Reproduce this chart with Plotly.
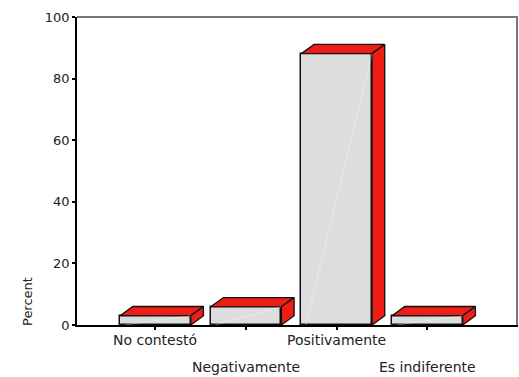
import plotly.graph_objects as go

categories = ["No contestó", "Negativamente", "Positivamente", "Es indiferente"]
percent = [3.0, 5.9, 88.1, 3.0]
y_ticks = [0, 20, 40, 60, 80, 100]

FRONT = "#DDDDDD"
RED = "#EE1E16"
EDGE = "#111111"
BAR_W = 0.78
DX = 0.14   # depth offset in category units
DY = 3.0    # depth offset in percent units

xs = list(range(len(categories)))
fig = go.Figure()

fig.add_trace(go.Bar(
    x=xs, y=percent, width=BAR_W,
    marker=dict(color=FRONT, line=dict(color=EDGE, width=1.5)),
    hoverinfo="skip", showlegend=False,
))

for x, v in zip(xs, percent):
    l, r = x - BAR_W / 2, x + BAR_W / 2
    # top face
    fig.add_trace(go.Scatter(
        x=[l, r, r + DX, l + DX, l], y=[v, v, v + DY, v + DY, v],
        fill="toself", fillcolor=RED, mode="lines",
        line=dict(color=EDGE, width=1.3), hoverinfo="skip", showlegend=False))
    # side face
    fig.add_trace(go.Scatter(
        x=[r, r + DX, r + DX, r, r], y=[0, DY, v + DY, v, 0],
        fill="toself", fillcolor=RED, mode="lines",
        line=dict(color=EDGE, width=1.3), hoverinfo="skip", showlegend=False))
    # subtle highlight on front face
    fig.add_trace(go.Scatter(
        x=[l + 0.05, r], y=[0, v], mode="lines",
        line=dict(color="rgba(255,255,255,0.35)", width=1),
        hoverinfo="skip", showlegend=False))

fig.update_xaxes(
    range=[-0.865, 4.0], tickvals=xs, ticktext=["" for _ in xs],
    showline=True, linecolor="black", linewidth=1.5,
    ticks="outside", ticklen=3, tickwidth=2, tickcolor="black",
    showgrid=False, zeroline=False, fixedrange=True, automargin=False,
)
fig.update_yaxes(
    range=[0, 100], tickvals=y_ticks,
    showline=True, linecolor="black", linewidth=1.5,
    ticks="outside", ticklen=3, tickwidth=2, tickcolor="black",
    showgrid=False, zeroline=False, automargin=False,
    tickfont=dict(family="DejaVu Sans", size=13, color="#222"),
)

# gray top and right frame lines
fig.add_shape(type="line", xref="paper", yref="paper", x0=0, x1=1, y0=1, y1=1,
              line=dict(color="#777777", width=2))
fig.add_shape(type="line", xref="paper", yref="paper", xsizemode="pixel", xanchor=1,
              x0=-1, x1=-1, y0=0, y1=1, line=dict(color="#777777", width=2))

# staggered category labels
for i, (x, c) in enumerate(zip(xs, categories)):
    fig.add_annotation(x=x, xref="x", y=0, yref="paper", text=c, showarrow=False,
                       yanchor="middle", yshift=-15 if i % 2 == 0 else -42,
                       font=dict(family="DejaVu Sans", size=14, color="#222"))

fig.add_annotation(text="Percent", xref="paper", yref="paper", x=0, y=0,
                   xanchor="center", yanchor="middle",
                   xshift=-50, yshift=23, textangle=-90, showarrow=False,
                   font=dict(family="DejaVu Sans", size=13, color="#222"))

fig.update_layout(
    width=519, height=377,
    margin=dict(l=77, r=1, t=17, b=52, autoexpand=False),
    plot_bgcolor="white", paper_bgcolor="white",
    bargap=0,
)

fig.write_html(
    "out.html",
    config={"displayModeBar": False},
    post_script="document.body.style.margin='0';document.body.style.overflow='hidden';",
)
